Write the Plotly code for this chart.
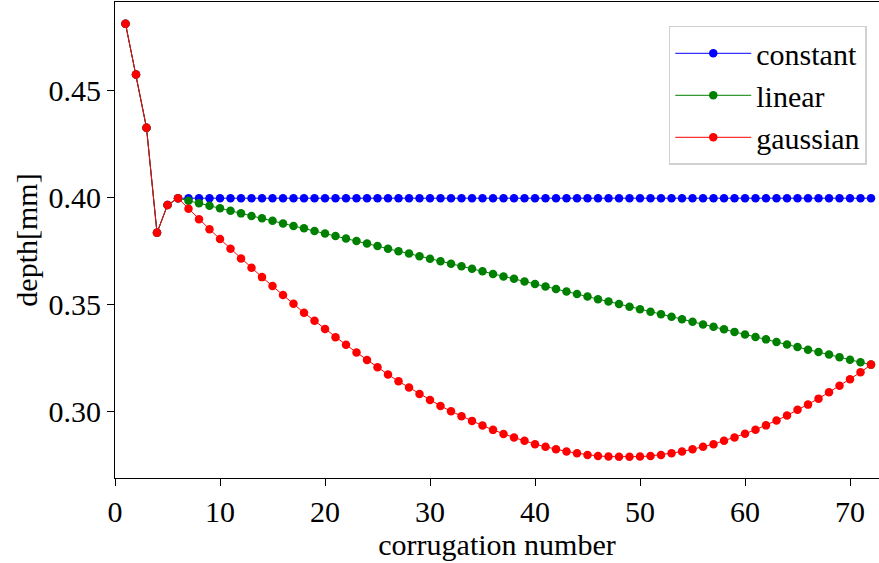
import plotly.graph_objects as go

# corrugation numbers 1..72
corrugation = list(range(1, 73))

# common first part (corrugations 1..5)
start_depth = [0.4810, 0.4573, 0.4324, 0.3833, 0.3963]

constant_tail = [
    0.3995, 0.3995, 0.3995, 0.3995, 0.3995, 0.3995, 0.3995, 0.3995, 0.3995, 0.3995,
    0.3995, 0.3995, 0.3995, 0.3995, 0.3995, 0.3995, 0.3995, 0.3995, 0.3995, 0.3995,
    0.3995, 0.3995, 0.3995, 0.3995, 0.3995, 0.3995, 0.3995, 0.3995, 0.3995, 0.3995,
    0.3995, 0.3995, 0.3995, 0.3995, 0.3995, 0.3995, 0.3995, 0.3995, 0.3995, 0.3995,
    0.3995, 0.3995, 0.3995, 0.3995, 0.3995, 0.3995, 0.3995, 0.3995, 0.3995, 0.3995,
    0.3995, 0.3995, 0.3995, 0.3995, 0.3995, 0.3995, 0.3995, 0.3995, 0.3995, 0.3995,
    0.3995, 0.3995, 0.3995, 0.3995, 0.3995, 0.3995, 0.3995,
]

linear_tail = [
    0.3995, 0.3983, 0.3971, 0.3960, 0.3948, 0.3936, 0.3924, 0.3912, 0.3901, 0.3889,
    0.3877, 0.3865, 0.3854, 0.3842, 0.3830, 0.3818, 0.3806, 0.3795, 0.3783, 0.3771,
    0.3759, 0.3747, 0.3736, 0.3724, 0.3712, 0.3700, 0.3688, 0.3677, 0.3665, 0.3653,
    0.3641, 0.3629, 0.3618, 0.3606, 0.3594, 0.3582, 0.3570, 0.3559, 0.3547, 0.3535,
    0.3523, 0.3512, 0.3500, 0.3488, 0.3476, 0.3464, 0.3453, 0.3441, 0.3429, 0.3417,
    0.3405, 0.3394, 0.3382, 0.3370, 0.3358, 0.3346, 0.3335, 0.3323, 0.3311, 0.3299,
    0.3287, 0.3276, 0.3264, 0.3252, 0.3240, 0.3228, 0.3217,
]

gaussian_tail = [
    0.3995, 0.3946, 0.3897, 0.3850, 0.3804, 0.3759, 0.3713, 0.3670, 0.3626, 0.3584,
    0.3542, 0.3501, 0.3459, 0.3422, 0.3384, 0.3345, 0.3310, 0.3274, 0.3239, 0.3205,
    0.3171, 0.3139, 0.3110, 0.3080, 0.3052, 0.3024, 0.2999, 0.2976, 0.2954, 0.2932,
    0.2912, 0.2893, 0.2876, 0.2861, 0.2845, 0.2833, 0.2821, 0.2811, 0.2803, 0.2795,
    0.2790, 0.2787, 0.2786, 0.2786, 0.2787, 0.2790, 0.2795, 0.2803, 0.2811, 0.2821,
    0.2833, 0.2845, 0.2861, 0.2876, 0.2894, 0.2913, 0.2933, 0.2956, 0.2979, 0.3006,
    0.3030, 0.3058, 0.3088, 0.3118, 0.3149, 0.3181, 0.3217,
]

series_names = ["constant", "linear", "gaussian"]
series_colors = ["#0000ff", "#008000", "#ff0000"]
series_values = [
    start_depth + constant_tail,
    start_depth + linear_tail,
    start_depth + gaussian_tail,
]

x_ticks = [0, 10, 20, 30, 40, 50, 60, 70]
y_ticks = [0.30, 0.35, 0.40, 0.45]

FONT = "Liberation Serif, Times New Roman, serif"
FS = 30

fig = go.Figure()
for name, color, vals in zip(series_names, series_colors, series_values):
    fig.add_trace(go.Scatter(
        x=corrugation, y=vals, name=name, mode="lines+markers",
        line=dict(color=color, width=1),
        marker=dict(color=color, size=8.5),
    ))

fig.update_layout(
    width=879, height=563,
    margin=dict(l=115, r=0, t=2, b=85),
    plot_bgcolor="white", paper_bgcolor="white",
    font=dict(family=FONT, size=FS, color="black"),
    showlegend=True,
    legend=dict(
        x=0.984, y=0.95, xanchor="right", yanchor="top",
        bgcolor="rgba(255,255,255,0.8)", bordercolor="#d0d0d0", borderwidth=1.5,
        font=dict(family=FONT, size=FS, color="black"),
        itemwidth=76,
    ),
    xaxis=dict(
        range=[0, 72.76], tickvals=x_ticks, ticks="outside", ticklen=7, tickwidth=1,
        tickcolor="black", showline=True, linecolor="black", linewidth=1.2,
        mirror=True, showgrid=False, zeroline=False,
        title=dict(text="corrugation number", standoff=2, font=dict(size=FS)),
        tickfont=dict(size=FS),
    ),
    yaxis=dict(
        range=[0.2687, 0.4912], tickvals=y_ticks, tickformat=".2f", ticks="outside",
        ticklen=7, tickwidth=1, tickcolor="black", showline=True, linecolor="black",
        linewidth=1.2, showgrid=False, zeroline=False,
        title=dict(text="depth[mm]", standoff=1, font=dict(size=FS)),
        tickfont=dict(size=FS),
    ),
)

fig.write_html("out.html")
